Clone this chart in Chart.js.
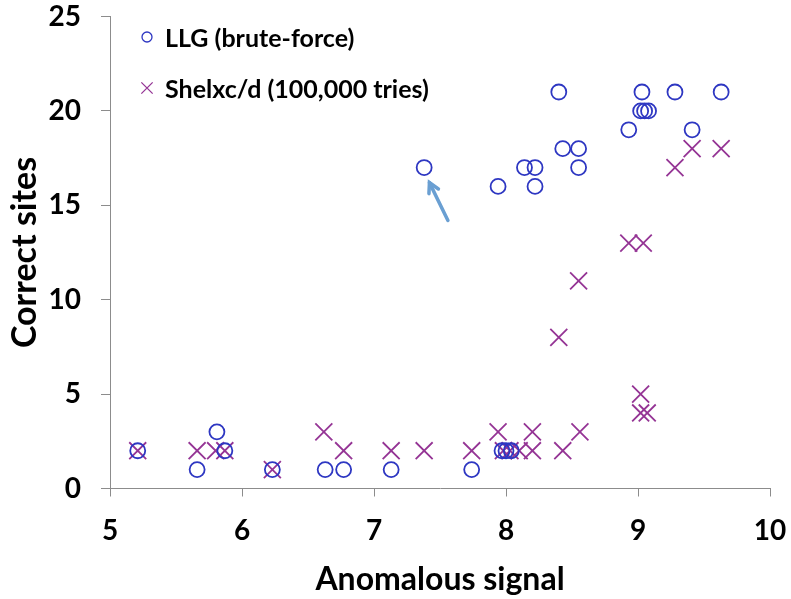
<!DOCTYPE html>
<html>
<head>
<meta charset="utf-8">
<script src="https://cdn.jsdelivr.net/npm/chart.js@4"></script>
<style>
    html, body { margin: 0; padding: 0; background: #fff; }
    #wrap { position: relative; width: 791px; height: 599px; }
</style>
</head>
<body>
<div id="wrap"><canvas id="chart" width="791" height="599"></canvas></div>
<script>
// data
const llgX = [5.21, 5.66, 5.81, 5.87, 6.23, 6.63, 6.77, 7.13, 7.74, 7.97, 8.00, 8.04,
              7.38, 7.94, 8.14, 8.22, 8.22, 8.40, 8.43, 8.55, 8.55, 8.93, 9.02, 9.05, 9.08, 9.03, 9.28, 9.41, 9.63];
const llgY = [2, 1, 3, 2, 1, 1, 1, 1, 1, 2, 2, 2,
              17, 16, 17, 17, 16, 21, 18, 18, 17, 19, 20, 20, 20, 21, 21, 19, 21];

const shelxX = [5.21, 5.66, 5.80, 5.87, 6.23, 6.62, 6.77, 7.13, 7.38, 7.74, 7.94, 7.98, 8.03, 8.10,
                8.20, 8.20, 8.40, 8.43, 8.55, 8.56, 8.93, 9.04, 9.02, 9.02, 9.07, 9.28, 9.41, 9.63];
const shelxY = [2, 2, 2, 2, 1, 3, 2, 2, 2, 2, 3, 2, 2, 2,
                3, 2, 8, 2, 11, 3, 13, 13, 5, 4, 4, 17, 18, 18];

const xTicks = [5, 6, 7, 8, 9, 10];
const yTicks = [0, 5, 10, 15, 20, 25];

const seriesNames = ['LLG (brute-force)', 'Shelxc/d (100,000 tries)'];

// arrow pointing at the outlier, in data units: [tailX, tailY, headX, headY]
const arrowPts = [7.56, 14.2, 7.42, 16.2];

const FONT = 'Lato, "Open Sans", sans-serif';
const AXIS_GREY = '#8c8c8c';
const BLUE = '#2e37c2';
const PURPLE = '#953595';

function toPoints(xs, ys) {
    return xs.map((x, i) => ({ x: x, y: ys[i] }));
}

// legend drawn inside the plot, top-left
const insideLegend = {
    id: 'insideLegend',
    afterDraw(chart) {
        const ctx = chart.ctx;
        const rows = [
            { y: 37, style: 'circle', r: 5, color: BLUE },
            { y: 88, style: 'crossRot', r: 8, color: PURPLE }
        ];
        ctx.save();
        chart.data.datasets.forEach((ds, i) => {
            const row = rows[i];
            ctx.strokeStyle = row.color;
            ctx.fillStyle = 'rgba(0,0,0,0)';
            ctx.lineWidth = 1.3;
            Chart.helpers.drawPoint(ctx, { pointStyle: row.style, radius: row.r, borderWidth: 1.3 }, 147, row.y);
            ctx.fillStyle = '#000';
            ctx.font = 'bold 25px ' + FONT;
            ctx.textBaseline = 'middle';
            ctx.textAlign = 'left';
            ctx.fillText(ds.label, 165, row.y + 2);
        });
        ctx.restore();
    }
};

const arrowPlugin = {
    id: 'arrow',
    afterDatasetsDraw(chart) {
        const xs = chart.scales.x, ys = chart.scales.y;
        const x1 = xs.getPixelForValue(arrowPts[0]), y1 = ys.getPixelForValue(arrowPts[1]);
        const x2 = xs.getPixelForValue(arrowPts[2]), y2 = ys.getPixelForValue(arrowPts[3]);
        const ang = Math.atan2(y2 - y1, x2 - x1);
        const ctx = chart.ctx;
        ctx.save();
        ctx.strokeStyle = '#6a9fd2';
        ctx.lineWidth = 3.5;
        ctx.lineCap = 'round';
        ctx.beginPath();
        ctx.moveTo(x1, y1);
        ctx.lineTo(x2, y2);
        ctx.stroke();
        ctx.beginPath();
        ctx.moveTo(x2 - 11 * Math.cos(ang - 0.5), y2 - 11 * Math.sin(ang - 0.5));
        ctx.lineTo(x2, y2);
        ctx.lineTo(x2 - 11 * Math.cos(ang + 0.5), y2 - 11 * Math.sin(ang + 0.5));
        ctx.stroke();
        ctx.restore();
    }
};

new Chart(document.getElementById('chart'), {
    type: 'scatter',
    data: {
        datasets: [{
            label: seriesNames[0],
            data: toPoints(llgX, llgY),
            pointStyle: 'circle',
            pointRadius: 7.5,
            pointBorderWidth: 1.8,
            borderColor: BLUE,
            backgroundColor: 'rgba(0,0,0,0)'
        }, {
            label: seriesNames[1],
            data: toPoints(shelxX, shelxY),
            pointStyle: 'crossRot',
            pointRadius: 12,
            pointBorderWidth: 1.8,
            borderColor: PURPLE,
            backgroundColor: PURPLE
        }]
    },
    options: {
        responsive: false,
        animation: false,
        layout: { padding: { top: 16.5, right: 21, left: 0, bottom: 0 } },
        plugins: {
            legend: { display: false },
            tooltip: { enabled: false }
        },
        scales: {
            x: {
                type: 'linear',
                min: 5,
                max: 10,
                afterBuildTicks: (s) => { s.ticks = xTicks.map(v => ({ value: v })); },
                afterFit: (s) => { s.height = 110.5; s.paddingLeft = 0; s.paddingRight = 0; },
                border: { color: AXIS_GREY, width: 1 },
                grid: { drawOnChartArea: false, drawTicks: true, tickLength: 8, color: AXIS_GREY },
                ticks: {
                    color: '#000',
                    padding: 18,
                    font: { family: FONT, size: 28, weight: 'bold' }
                },
                title: {
                    display: true,
                    text: 'Anomalous signal',
                    color: '#000',
                    padding: { top: 2, bottom: 0 },
                    font: { family: FONT, size: 32, weight: 'bold' }
                }
            },
            y: {
                type: 'linear',
                min: 0,
                max: 25,
                afterBuildTicks: (s) => { s.ticks = yTicks.map(v => ({ value: v })); },
                afterFit: (s) => { s.width = 110; s.paddingTop = 0; s.paddingBottom = 0; },
                border: { color: AXIS_GREY, width: 1 },
                grid: { drawOnChartArea: false, drawTicks: true, tickLength: 9, color: AXIS_GREY },
                ticks: {
                    color: '#000',
                    padding: 20,
                    font: { family: FONT, size: 28, weight: 'bold' }
                },
                title: {
                    display: true,
                    text: 'Correct sites',
                    color: '#000',
                    padding: { top: 5, bottom: 0 },
                    font: { family: FONT, size: 34, weight: 'bold' }
                }
            }
        }
    },
    plugins: [insideLegend, arrowPlugin]
});
</script>
</body>
</html>
